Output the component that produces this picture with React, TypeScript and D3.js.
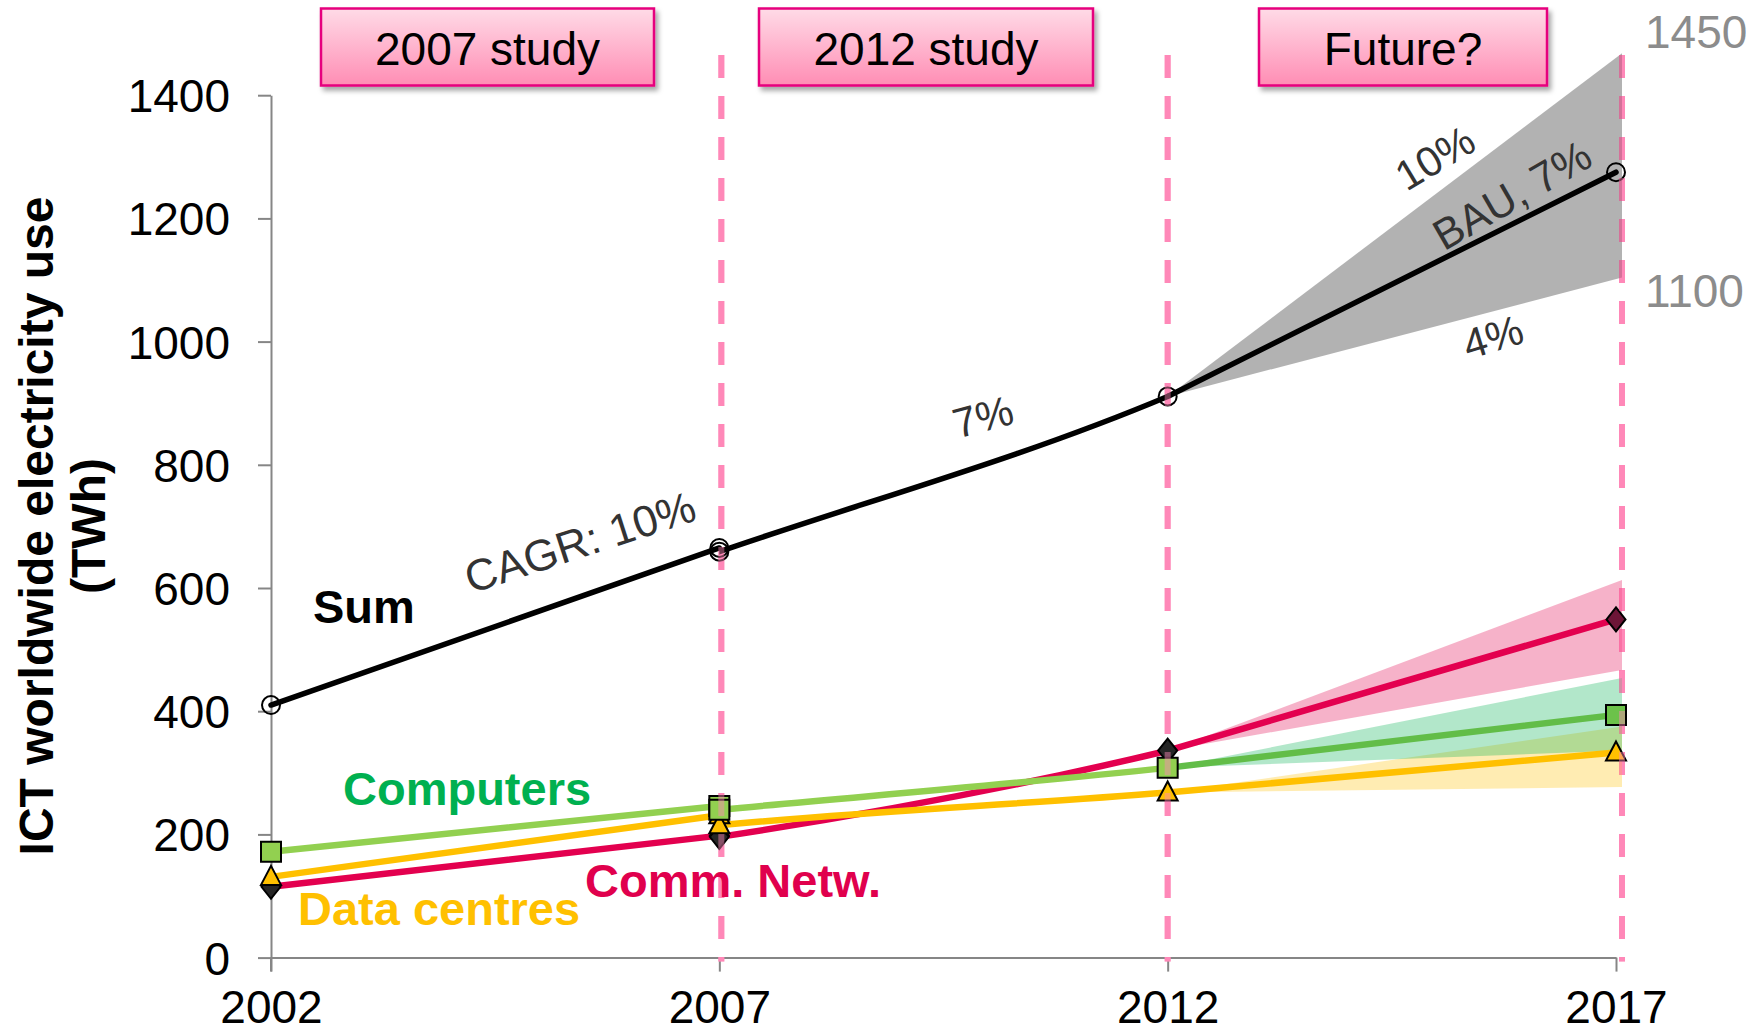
import React, { useEffect, useRef } from 'react';
import * as d3 from 'd3';

// ---- data ----
const years = [2002, 2007, 2012, 2017];
const yTicks = [0, 200, 400, 600, 800, 1000, 1200, 1400];
const studyLabels = ['2007 study', '2012 study', 'Future?'];

// 2007 study: 2002 -> 2007
const sumStudy2007 = [410, 665];
const computersStudy2007 = [172, 246];
const commStudy2007 = [115, 198];
const dcStudy2007 = [131, 231];

// 2012 study: 2007 -> 2012
const sumStudy2012 = [659, 911];
const computersStudy2012 = [240, 308];
const commStudy2012 = [196, 336];
const dcStudy2012 = [215, 268];

// BAU projection value for 2017
const sumBau = 1275;
const computersBau = 394;
const commBau = 549;
const dcBau = 333;

// low / high ranges for 2017
const sumRange = [1104, 1468];
const computersRange = [336, 454];
const commRange = [467, 613];
const dcRange = [277, 375];

const rangeLabels = ['1450', '1100'];
const growthLabels = ['CAGR: 10%', '7%', '10%', 'BAU, 7%', '4%'];
const seriesNames = ['Sum', 'Computers', 'Comm. Netw.', 'Data centres'];

const W = 1756;
const H = 1033;
const FONT = "'Liberation Sans', Arial, Helvetica, sans-serif";

export default function App() {
    const svgRef = useRef(null);

    useEffect(() => {
        const svg = d3.select(svgRef.current);
        svg.selectAll('*').remove();

        const x = d3.scaleLinear().domain([2002, 2017]).range([271, 1616]);
        const y = d3.scaleLinear().domain([0, 1400]).range([957.6, 95.2]);

        const defs = svg.append('defs');
        const grad = defs.append('linearGradient')
            .attr('id', 'boxGrad')
            .attr('x1', '0%').attr('x2', '0%').attr('y1', '0%').attr('y2', '100%');
        grad.append('stop').attr('offset', '0%').attr('stop-color', '#ffdbe7');
        grad.append('stop').attr('offset', '100%').attr('stop-color', '#ff8db4');

        const shadow = defs.append('filter').attr('id', 'boxShadow')
            .attr('x', '-10%').attr('y', '-10%').attr('width', '130%').attr('height', '140%');
        shadow.append('feDropShadow')
            .attr('dx', 3).attr('dy', 4).attr('stdDeviation', 2.5)
            .attr('flood-color', '#000').attr('flood-opacity', 0.35);

        defs.append('clipPath').attr('id', 'midClip')
            .append('rect')
            .attr('x', x(2007)).attr('y', 0)
            .attr('width', x(2012) - x(2007)).attr('height', H);

        // ---- axes ----
        const yAxis = svg.append('g')
            .attr('transform', `translate(${x(2002)},0)`)
            .call(d3.axisLeft(y).tickValues(yTicks).tickFormat(d3.format('d'))
                .tickSize(13).tickSizeOuter(0).tickPadding(28));
        const xAxis = svg.append('g')
            .attr('transform', `translate(0,${y(0)})`)
            .call(d3.axisBottom(x).tickValues(years).tickFormat(d3.format('d'))
                .tickSize(14).tickSizeOuter(0).tickPadding(19));

        [yAxis, xAxis].forEach(g => {
            g.attr('font-family', FONT).attr('font-size', 46);
            g.select('.domain').attr('stroke', '#868686').attr('stroke-width', 2);
            g.selectAll('.tick line').attr('stroke', '#868686').attr('stroke-width', 2);
            g.selectAll('.tick text').attr('fill', '#000');
        });
        yAxis.selectAll('.tick text').attr('dy', '0.36em');
        // vertical axis reaches down to the x tick
        yAxis.append('line')
            .attr('x1', 0).attr('x2', 0).attr('y1', y(0)).attr('y2', y(0) + 14)
            .attr('stroke', '#868686').attr('stroke-width', 2);

        const title = svg.append('g')
            .attr('font-family', FONT).attr('font-weight', 'bold').attr('font-size', 48)
            .attr('text-anchor', 'middle');
        title.append('text')
            .attr('transform', 'translate(53,526) rotate(-90)')
            .text('ICT worldwide electricity use');
        title.append('text')
            .attr('transform', 'translate(105,526) rotate(-90)')
            .text('(TWh)');

        // ---- dashed study separators ----
        const dashNudge = { 2007: 2, 2012: 0, 2017: 6 };
        const dashYears = years.slice(1);
        const drawDashes = (opacity) => {
            svg.append('g').selectAll('line')
                .data(dashYears).enter().append('line')
                .attr('x1', d => x(d) + dashNudge[d]).attr('x2', d => x(d) + dashNudge[d])
                .attr('y1', 55).attr('y2', y(0) + 4)
                .attr('stroke', '#ff88b8').attr('stroke-width', 6)
                .attr('stroke-dasharray', '23 18')
                .attr('opacity', opacity);
        };
        drawDashes(1);

        // ---- uncertainty fans 2012 -> 2017 ----
        const fanEnd = x(2017) + dashNudge[2017];
        const fans = [
            { start: dcStudy2012[1], range: dcRange, color: '#ffc000', op: 0.3 },
            { start: computersStudy2012[1], range: computersRange, color: '#00b050', op: 0.3 },
            { start: commStudy2012[1], range: commRange, color: '#e0004d', op: 0.3 },
            { start: sumStudy2012[1], range: sumRange, color: '#000', op: 0.3 },
        ];
        svg.append('g').selectAll('path')
            .data(fans).enter().append('path')
            .attr('d', d => `M${x(2012)},${y(d.start)}L${fanEnd},${y(d.range[1])}L${fanEnd},${y(d.range[0])}Z`)
            .attr('fill', d => d.color)
            .attr('fill-opacity', d => d.op);

        // ---- lines ----
        const straight = d3.line().x(d => x(d[0])).y(d => y(d[1]));
        const smooth = d3.line().x(d => x(d[0])).y(d => y(d[1])).curve(d3.curveCatmullRom.alpha(0.5));

        const series = [
            { s07: commStudy2007, s12: commStudy2012, bau: commBau, color: '#e3004f', future: '#e3004f', w: 6.5 },
            { s07: dcStudy2007, s12: dcStudy2012, bau: dcBau, color: '#ffc000', future: '#ffc000', w: 6.5 },
            { s07: computersStudy2007, s12: computersStudy2012, bau: computersBau, color: '#92d050', future: '#62bd48', w: 6.5 },
            { s07: sumStudy2007, s12: sumStudy2012, bau: sumBau, color: '#000', future: '#000', w: 5.5 },
        ];
        const lines = svg.append('g').attr('fill', 'none').attr('stroke-linecap', 'round');
        series.forEach(s => {
            lines.append('path')
                .attr('d', straight([[2002, s.s07[0]], [2007, s.s07[1]]]))
                .attr('stroke', s.color).attr('stroke-width', s.w);
            lines.append('path')
                .attr('d', smooth([[2002, s.s07[0]], [2007, s.s12[0]], [2012, s.s12[1]], [2017, s.bau]]))
                .attr('clip-path', 'url(#midClip)')
                .attr('stroke', s.color).attr('stroke-width', s.w);
            lines.append('path')
                .attr('d', straight([[2012, s.s12[1]], [2017, s.bau]]))
                .attr('stroke', s.future).attr('stroke-width', s.w);
        });

        // ---- markers ----
        const diamond = 'M0,-12L9.5,0L0,12L-9.5,0Z';
        const triangle = 'M0,-11L10,8L-10,8Z';
        const square = d3.symbol().type(d3.symbolSquare).size(400)();
        const pts = (a07, a12, bau) => [
            [2002, a07[0], 0], [2007, a07[1], 0], [2007, a12[0], 0], [2012, a12[1], 0], [2017, bau, 1],
        ];
        const markers = svg.append('g').attr('stroke', '#000').attr('stroke-width', 2);
        markers.selectAll('.dia')
            .data(pts(commStudy2007, commStudy2012, commBau)).enter().append('path')
            .attr('transform', d => `translate(${x(d[0])},${y(d[1])})`)
            .attr('d', diamond)
            .attr('fill', d => d[2] ? '#6d1537' : '#262626');
        markers.selectAll('.tri')
            .data(pts(dcStudy2007, dcStudy2012, dcBau)).enter().append('path')
            .attr('transform', d => `translate(${x(d[0])},${y(d[1])})`)
            .attr('d', triangle)
            .attr('fill', '#ffc000');
        markers.selectAll('.sq')
            .data(pts(computersStudy2007, computersStudy2012, computersBau)).enter().append('path')
            .attr('transform', d => `translate(${x(d[0])},${y(d[1])})`)
            .attr('d', square)
            .attr('fill', d => d[2] ? '#6cc24a' : '#92d050');
        markers.selectAll('.ci')
            .data(pts(sumStudy2007, sumStudy2012, sumBau)).enter().append('circle')
            .attr('cx', d => x(d[0])).attr('cy', d => y(d[1]))
            .attr('r', 9).attr('fill', 'none');

        drawDashes(0.45);

        // ---- study boxes ----
        const boxLayout = [{ x: 321, w: 333 }, { x: 759, w: 334 }, { x: 1259, w: 288 }];
        const boxes = svg.append('g').selectAll('g')
            .data(studyLabels).enter().append('g');
        boxes.append('rect')
            .attr('x', (d, i) => boxLayout[i].x).attr('y', 8.5)
            .attr('width', (d, i) => boxLayout[i].w).attr('height', 77)
            .attr('fill', 'url(#boxGrad)')
            .attr('stroke', '#e6007e').attr('stroke-width', 2.5)
            .attr('filter', 'url(#boxShadow)');
        boxes.append('text')
            .attr('x', (d, i) => boxLayout[i].x + boxLayout[i].w / 2).attr('y', 65)
            .attr('text-anchor', 'middle')
            .attr('font-family', FONT).attr('font-size', 46)
            .text(d => d);

        // ---- range values at right ----
        svg.append('g').selectAll('text')
            .data(rangeLabels).enter().append('text')
            .attr('x', 1645).attr('y', (d, i) => [48, 307][i])
            .attr('font-family', FONT).attr('font-size', 46).attr('fill', '#8c8c8c')
            .text(d => d);

        // ---- growth-rate annotations ----
        const growthLayout = [
            { x: 580, y: 542, a: -18, s: 44 },
            { x: 983, y: 417, a: -15, s: 42 },
            { x: 1435, y: 158, a: -31, s: 42 },
            { x: 1512, y: 195, a: -30, s: 43 },
            { x: 1493, y: 337, a: -17, s: 42 },
        ];
        svg.append('g').selectAll('text')
            .data(growthLabels).enter().append('text')
            .attr('transform', (d, i) => `translate(${growthLayout[i].x},${growthLayout[i].y}) rotate(${growthLayout[i].a})`)
            .attr('text-anchor', 'middle').attr('dominant-baseline', 'central')
            .attr('font-family', FONT).attr('font-size', (d, i) => growthLayout[i].s)
            .attr('fill', '#333')
            .text(d => d);

        // ---- series names ----
        const nameLayout = [
            { x: 313, y: 623, c: '#000' },
            { x: 343, y: 805, c: '#00b050' },
            { x: 585, y: 897, c: '#e0004d' },
            { x: 298, y: 925, c: '#ffc000' },
        ];
        svg.append('g').selectAll('text')
            .data(seriesNames).enter().append('text')
            .attr('x', (d, i) => nameLayout[i].x).attr('y', (d, i) => nameLayout[i].y)
            .attr('fill', (d, i) => nameLayout[i].c)
            .attr('font-family', FONT).attr('font-weight', 'bold').attr('font-size', 47)
            .text(d => d);
    }, []);

    return (
        <svg
            ref={svgRef}
            width={W}
            height={H}
            style={{ position: 'absolute', left: 0, top: 0, display: 'block', background: '#fff' }}
        />
    );
}
